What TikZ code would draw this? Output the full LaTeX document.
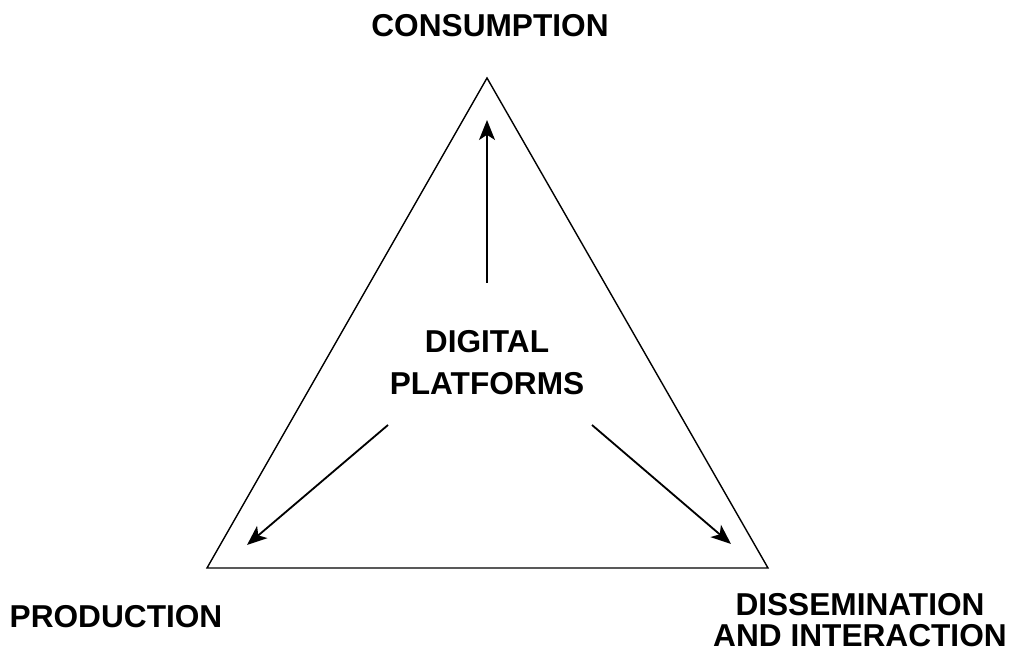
\documentclass[tikz,border=0pt]{standalone}
\usepackage{fontspec}
\setmainfont{Liberation Sans}
\usetikzlibrary{arrows.meta}
\tikzset{
	lbl/.style={font=\fontsize{22.5}{30}\selectfont\bfseries, align=center, inner sep=0pt},
	flow/.style={line width=1.3pt, -{Stealth[length=5mm, width=4mm, inset=1.3mm]}}
}
\begin{document}
\begin{tikzpicture}[x=0.025cm, y=-0.025cm]
	\useasboundingbox (0,0) rectangle (1011,655);
	% corners of the triangle
	\coordinate (C) at (487,78);
	\coordinate (P) at (207,568);
	\coordinate (D) at (768,568);
	\draw[line width=1pt] (C) -- (P) -- (D) -- cycle;
	\node[lbl] (mid) at (487,363) {DIGITAL\\PLATFORMS};
	\node[lbl] (cons) at (490,26) {CONSUMPTION};
	\node[lbl] (prod) at (116,617) {PRODUCTION};
	\node[lbl, font=\fontsize{22.5}{21.5}\selectfont\bfseries] (diss) at (860,620) {DISSEMINATION\\AND INTERACTION};
	% arrows out of the centre
	\coordinate (u0) at (487,283); \coordinate (u1) at (487,120);
	\coordinate (l0) at (388,425); \coordinate (l1) at (247,545);
	\coordinate (r0) at (592,425); \coordinate (r1) at (731,544);
	\draw[flow] (u0) -- (u1);
	\draw[flow] (l0) -- (l1);
	\draw[flow] (r0) -- (r1);
\end{tikzpicture}
\end{document}
